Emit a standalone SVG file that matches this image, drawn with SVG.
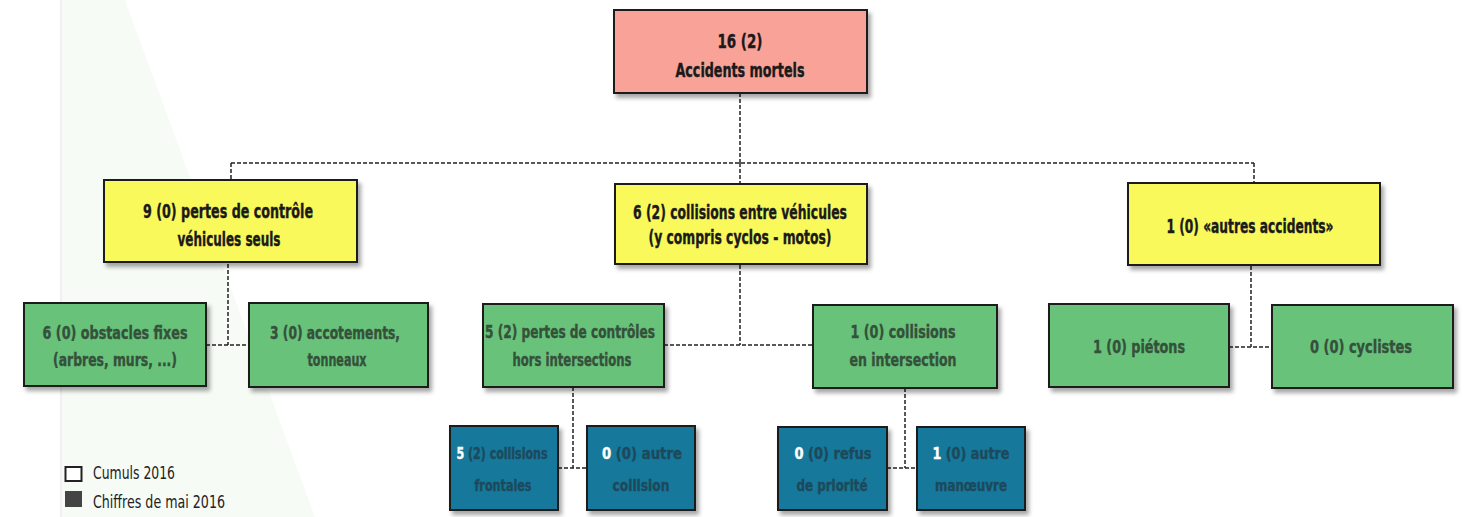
<svg xmlns="http://www.w3.org/2000/svg" width="1467" height="517" viewBox="0 0 1467 517">
<defs>
<filter id="sh" x="-10%" y="-10%" width="125%" height="135%">
<feDropShadow dx="3" dy="4" stdDeviation="2" flood-color="#000" flood-opacity="0.35"/>
</filter>
<style>
.box{stroke:#1e1e1e;stroke-width:2;filter:url(#sh)}
.red{fill:#f9a398}
.yel{fill:#f9f95c}
.grn{fill:#68c27a}
.blu{fill:#17789a}
.t{font-family:"DejaVu Sans Condensed","DejaVu Sans","Liberation Sans",sans-serif;font-stretch:condensed;font-weight:bold;font-size:19px;fill:#1a1a1a;stroke:#1a1a1a;stroke-width:0.4;text-anchor:middle}
.tg{fill:#35503b;stroke:#35503b;font-size:18px}
.tb{fill:#1c4a5c;stroke:#1c4a5c;font-size:16px}
.w{fill:#ffffff;stroke:#ffffff}
.con{fill:none;stroke:#222;stroke-width:1.5;stroke-dasharray:4 2}
.leg{font-family:"DejaVu Sans Condensed","DejaVu Sans","Liberation Sans",sans-serif;font-stretch:condensed;font-size:18px;fill:#222}
</style>
</defs>
<rect width="1467" height="517" fill="#ffffff"/>
<polygon points="62,0 125,0 315,517 62,517" fill="#f6fbf6"/>
<line x1="61" y1="0" x2="61" y2="517" stroke="#f0f0f0" stroke-width="2"/>

<g id="connectors">
<path class="con" d="M740,93 V163 M231,163 H1254 M231,163 V180 M740,163 V184 M1254,163 V183"/>
<path class="con" d="M228,264 V345 M206,345 H249"/>
<path class="con" d="M740,265 V345 M664,345 H813"/>
<path class="con" d="M1251,266 V347 M1229,347 H1272"/>
<path class="con" d="M573,387 V468 M558,468 H587"/>
<path class="con" d="M905,388 V468 M887,468 H917"/>
</g>

<g id="n-total">
<rect class="box red" x="614" y="10" width="253" height="83"/>
<text class="t" x="740" y="48" textLength="45" lengthAdjust="spacingAndGlyphs">16 (2)</text>
<text class="t" x="740" y="77" textLength="129" lengthAdjust="spacingAndGlyphs">Accidents mortels</text>
</g>

<g id="n-pertes">
<rect class="box yel" x="104" y="180" width="253" height="82"/>
<text class="t" x="228" y="218" textLength="170" lengthAdjust="spacingAndGlyphs">9 (0) pertes de contrôle</text>
<text class="t" x="229" y="246" textLength="103" lengthAdjust="spacingAndGlyphs">véhicules seuls</text>
</g>

<g id="n-collisions">
<rect class="box yel" x="615" y="184" width="252" height="80"/>
<text class="t" x="740" y="219" textLength="214" lengthAdjust="spacingAndGlyphs">6 (2) collisions entre véhicules</text>
<text class="t" x="740" y="244" textLength="183" lengthAdjust="spacingAndGlyphs">(y compris cyclos - motos)</text>
</g>

<g id="n-autres">
<rect class="box yel" x="1128" y="183" width="252" height="82"/>
<text class="t" x="1250" y="233" textLength="167" lengthAdjust="spacingAndGlyphs">1 (0) «autres accidents»</text>
</g>

<g id="n-obstacles">
<rect class="box grn" x="24" y="303" width="182" height="83"/>
<text class="t tg" x="115" y="339" textLength="145" lengthAdjust="spacingAndGlyphs">6 (0) obstacles fixes</text>
<text class="t tg" x="115" y="366" textLength="124" lengthAdjust="spacingAndGlyphs">(arbres, murs, ...)</text>
</g>

<g id="n-accotements">
<rect class="box grn" x="249" y="303" width="179" height="84"/>
<text class="t tg" x="335" y="339" textLength="130" lengthAdjust="spacingAndGlyphs">3 (0) accotements,</text>
<text class="t tg" x="337" y="366" textLength="59" lengthAdjust="spacingAndGlyphs">tonneaux</text>
</g>

<g id="n-hors">
<rect class="box grn" x="483" y="304" width="181" height="83"/>
<text class="t tg" x="570" y="338" textLength="170" lengthAdjust="spacingAndGlyphs">5 (2) pertes de contrôles</text>
<text class="t tg" x="572" y="366" textLength="119" lengthAdjust="spacingAndGlyphs">hors intersections</text>
</g>

<g id="n-intersection">
<rect class="box grn" x="813" y="305" width="184" height="83"/>
<text class="t tg" x="903" y="338" textLength="105" lengthAdjust="spacingAndGlyphs">1 (0) collisions</text>
<text class="t tg" x="903" y="366" textLength="107" lengthAdjust="spacingAndGlyphs">en intersection</text>
</g>

<g id="n-pietons">
<rect class="box grn" x="1049" y="304" width="180" height="83"/>
<text class="t tg" x="1139" y="353" textLength="92" lengthAdjust="spacingAndGlyphs">1 (0) piétons</text>
</g>

<g id="n-cyclistes">
<rect class="box grn" x="1272" y="305" width="181" height="83"/>
<text class="t tg" x="1361" y="353" textLength="102" lengthAdjust="spacingAndGlyphs">0 (0) cyclistes</text>
</g>

<g id="n-frontales">
<rect class="box blu" x="450" y="426" width="108" height="84"/>
<text class="t tb" x="502" y="459" textLength="91" lengthAdjust="spacingAndGlyphs"><tspan class="w">5</tspan> (2) collisions</text>
<text class="t tb" x="503" y="491" textLength="57" lengthAdjust="spacingAndGlyphs">frontales</text>
</g>

<g id="n-autre-collision">
<rect class="box blu" x="587" y="426" width="108" height="84"/>
<text class="t tb" x="642" y="459" textLength="80" lengthAdjust="spacingAndGlyphs"><tspan class="w">0</tspan> (0) autre</text>
<text class="t tb" x="641" y="491" textLength="57" lengthAdjust="spacingAndGlyphs">collision</text>
</g>

<g id="n-refus">
<rect class="box blu" x="778" y="427" width="109" height="83"/>
<text class="t tb" x="833" y="459" textLength="77" lengthAdjust="spacingAndGlyphs"><tspan class="w">0</tspan> (0) refus</text>
<text class="t tb" x="832" y="491" textLength="71" lengthAdjust="spacingAndGlyphs">de priorité</text>
</g>

<g id="n-manoeuvre">
<rect class="box blu" x="917" y="427" width="108" height="83"/>
<text class="t tb" x="971" y="459" textLength="77" lengthAdjust="spacingAndGlyphs"><tspan class="w">1</tspan> (0) autre</text>
<text class="t tb" x="971" y="491" textLength="72" lengthAdjust="spacingAndGlyphs">manœuvre</text>
</g>

<g id="legend">
<rect x="65.5" y="467" width="16" height="14" fill="#fff" stroke="#222" stroke-width="2"/>
<text class="leg" x="93" y="479" textLength="82" lengthAdjust="spacingAndGlyphs">Cumuls 2016</text>
<rect x="65" y="491" width="17" height="16" fill="#444"/>
<text class="leg" x="93" y="508" textLength="132" lengthAdjust="spacingAndGlyphs">Chiffres de mai 2016</text>
</g>
</svg>
